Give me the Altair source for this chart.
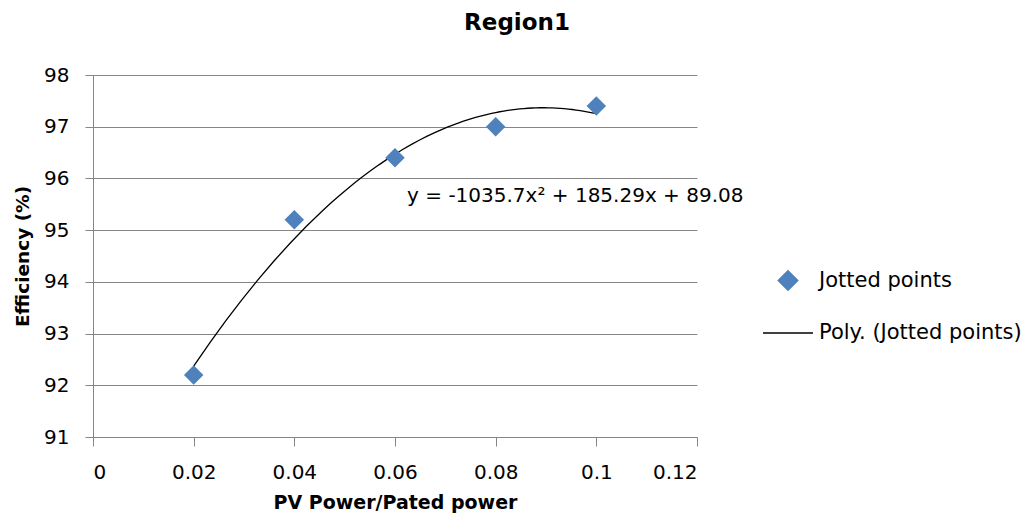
import altair as alt
import pandas as pd

# ---- data ----
x_vals = [0.02, 0.04, 0.06, 0.08, 0.10]
y_vals = [92.2, 95.2, 96.4, 97.0, 97.4]
series_names = ["Jotted points", "Poly. (Jotted points)"]
x_ticks = [0, 0.02, 0.04, 0.06, 0.08, 0.10, 0.12]
y_ticks = [91, 92, 93, 94, 95, 96, 97, 98]
eq_text = ["y = -1035.7x\u00b2 + 185.29x + 89.08"]
eq_x = [0.0624]
eq_y = [95.66]

FONT = "DejaVu Sans"
GRAY = "#868686"

df = pd.DataFrame({"x": x_vals, "y": y_vals, "series": [series_names[0]] * len(x_vals)})
eq_df = pd.DataFrame({"x": eq_x, "y": eq_y, "label": eq_text})

x_enc = alt.X("x:Q", scale=alt.Scale(domain=[x_ticks[0], x_ticks[-1]], nice=False),
              axis=alt.Axis(values=x_ticks, format="~g", grid=False, title="PV Power/Pated power",
                            titleFontSize=19,
                            domainColor=GRAY, tickColor=GRAY, tickSize=9, labelPadding=16,
                            titlePadding=11))
y_enc = alt.Y("y:Q", scale=alt.Scale(domain=[y_ticks[0], y_ticks[-1]], nice=False, zero=False),
              axis=alt.Axis(values=y_ticks, format="d", grid=True, gridColor=GRAY,
                            title="Efficiency (%)", titleFontSize=18.5,
                            titleX=-71, titleY=181, titleAngle=270, titleAlign="center",
                            titleBaseline="middle",
                            domainColor=GRAY, tickColor=GRAY, tickSize=8, labelPadding=16))

legend = alt.Legend(title=None, orient="none", legendX=669, legendY=195,
                    labelFont=FONT, labelFontSize=21, labelColor="#000000", labelLimit=400,
                    rowPadding=13, symbolStrokeWidth=1.5, labelOffset=5)

color = alt.Color("series:N", scale=alt.Scale(domain=series_names, range=["#4F81BD", "#000000"]),
                  legend=legend)
shape = alt.Shape("series:N", scale=alt.Scale(domain=series_names, range=["diamond", "stroke"]),
                  legend=legend)
size = alt.Size("series:N", scale=alt.Scale(domain=series_names, range=[380, 2500]),
                legend=legend)

base = alt.Chart(df)

points = base.mark_point(filled=True, opacity=1).encode(
    x=x_enc, y=y_enc, color=color, shape=shape, size=size
)

trend = base.transform_regression("x", "y", method="poly", order=2).transform_calculate(
    series=f"'{series_names[1]}'"
).mark_line(strokeWidth=1.3).encode(
    x="x:Q", y="y:Q", color=color
)

eq = alt.Chart(eq_df).mark_text(align="left", baseline="middle", font=FONT, fontSize=20,
                                color="#000000").encode(x="x:Q", y="y:Q", text="label:N")

chart = alt.layer(trend, points, eq).properties(
    width=604, height=362,
    autosize=alt.AutoSizeParams(type="none"),
    padding={"left": 85, "top": 67, "right": 330, "bottom": 77},
    title=alt.Title("Region1", font=FONT, fontSize=23, fontWeight="bold", color="#000000",
                    anchor="middle", frame="group", dx=122, offset=30),
).configure_view(stroke=None).configure_axis(
    labelFont=FONT, labelFontSize=20, labelColor="#000000",
    titleFont=FONT, titleFontSize=20, titleFontWeight="bold", titleColor="#000000",
)

chart.save("out.html", embed_options={"renderer": "svg", "actions": False})
